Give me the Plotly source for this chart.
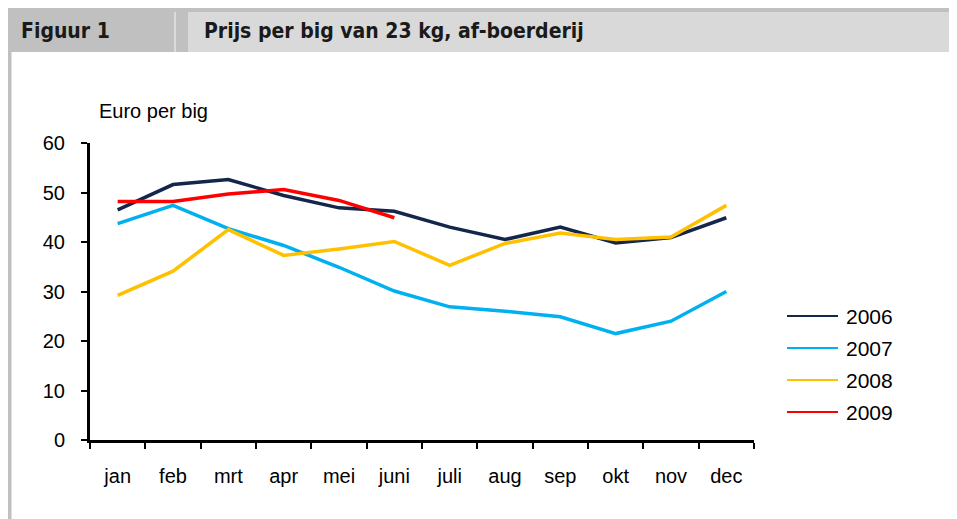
import plotly.graph_objects as go

months = ["jan", "feb", "mrt", "apr", "mei", "juni", "juli", "aug", "sep", "okt", "nov", "dec"]
years = ["2006", "2007", "2008", "2009"]
v2006 = [46.5, 51.6, 52.6, 49.4, 46.9, 46.2, 43.0, 40.5, 43.0, 39.8, 40.9, 44.9]
v2007 = [43.7, 47.4, 42.7, 39.3, 34.9, 30.1, 26.9, 26.0, 24.9, 21.5, 24.0, 30.0]
v2008 = [29.2, 34.1, 42.5, 37.3, 38.6, 40.1, 35.3, 39.7, 41.8, 40.5, 41.0, 47.4]
v2009 = [48.2, 48.2, 49.7, 50.6, 48.4, 44.9]
colors = ["#14264a", "#00b0f0", "#ffc000", "#ff0000"]
series = [v2006, v2007, v2008, v2009]

OFF = 8  # browser body margin
PW, PH = 957, 519  # page size
W, H = PW - OFF, PH - OFF
# plot area in page pixels
PL, PR, PT, PB = 90, 754, 143, 440
L, R, T, B = PL - OFF, PR - OFF, PT - OFF, PB - OFF

def px(x):
    return (x - OFF - L) / (R - L)

def py(y):
    return (B - (y - OFF)) / (B - T)

fig = go.Figure()
for name, vals, col in zip(years, series, colors):
    fig.add_trace(go.Scatter(x=months[:len(vals)], y=vals, mode="lines", name=name,
                             line=dict(color=col, width=3.5), showlegend=False))

font = "Liberation Sans, Arial, sans-serif"
hfont = "DejaVu Sans Condensed, Liberation Sans Narrow, Arial Narrow, sans-serif"

shapes = [
    dict(type="rect", x0=px(OFF), x1=px(PW), y0=py(8), y1=py(52), fillcolor="#c0c0c0", line_width=0, layer="below"),
    dict(type="rect", x0=px(188), x1=px(PW), y0=py(12), y1=py(52), fillcolor="#d9d9d9", line_width=0, layer="below"),
    dict(type="rect", x0=px(174), x1=px(176), y0=py(12), y1=py(52), fillcolor="#dcdcdc", line_width=0, layer="below"),
    dict(type="rect", x0=px(OFF), x1=px(OFF + 3.5), y0=py(52), y1=py(PH), fillcolor="#c0c0c0", line_width=0, layer="below"),
]
annotations = [
    dict(text="<b>Figuur 1</b>", x=px(19), y=py(31), xref="paper", yref="paper", xanchor="left", yanchor="middle",
         showarrow=False, font=dict(family=hfont, size=21, color="#1a1a1a")),
    dict(text="<b>Prijs per big van 23 kg, af-boerderij</b>", x=px(202), y=py(31), xref="paper", yref="paper",
         xanchor="left", yanchor="middle", showarrow=False, font=dict(family=hfont, size=21, color="#1a1a1a")),
    dict(text="Euro per big", x=px(97), y=py(111), xref="paper", yref="paper", xanchor="left", yanchor="middle",
         showarrow=False, font=dict(family=font, size=20, color="#000000")),
]
leg_y = [316, 348, 380, 412]
for name, col, ly in zip(years, colors, leg_y):
    shapes.append(dict(type="line", x0=px(787), x1=px(838), y0=py(ly), y1=py(ly),
                       line=dict(color=col, width=2)))
    annotations.append(dict(text=name, x=px(844), y=py(ly), xref="paper", yref="paper", xanchor="left",
                            yanchor="middle", showarrow=False, font=dict(family=font, size=21, color="#000000")))
for s in shapes:
    s.setdefault("xref", "paper")
    s.setdefault("yref", "paper")

fig.update_layout(
    width=W, height=H,
    margin=dict(l=L, r=W - R, t=T, b=H - B, pad=0),
    paper_bgcolor="white", plot_bgcolor="white",
    shapes=shapes, annotations=annotations,
    font=dict(family=font, size=20, color="#000000"),
    xaxis=dict(type="category", categoryorder="array", categoryarray=months, range=[-0.5, 11.5],
               showline=True, linecolor="black", linewidth=3, ticks="outside", tickson="boundaries",
               ticklen=6, tickwidth=2, tickcolor="black", showgrid=False, zeroline=False,
               ticklabelstandoff=16, tickfont=dict(size=20)),
    yaxis=dict(range=[0, 60], tickvals=[0, 10, 20, 30, 40, 50, 60], showline=True, linecolor="black",
               linewidth=3, ticks="outside", ticklen=6, tickwidth=2, tickcolor="black", showgrid=False,
               zeroline=False, ticklabelstandoff=12, tickfont=dict(size=20)),
)
fig.write_html("out.html")
